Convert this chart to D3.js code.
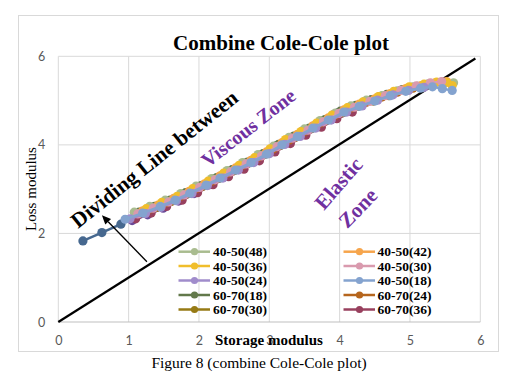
<!DOCTYPE html>
<html><head><meta charset="utf-8">
<script src="https://cdn.jsdelivr.net/npm/d3@7"></script>
<style>body{margin:0;background:#fff}svg{display:block}</style>
</head><body>
<script>
// ---------- data ----------
const xTicks = [0, 1, 2, 3, 4, 5, 6];
const yTicks = [0, 2, 4, 6];
const seriesNames = ["40-50(48)", "40-50(42)", "40-50(36)", "40-50(30)", "40-50(24)", "40-50(18)",
                     "60-70(18)", "60-70(24)", "60-70(30)", "60-70(36)", "60-70(42)", "60-70(48)"];
const seriesColors = ["#A9BC8F", "#F6A54C", "#F0BE2C", "#D99AAE", "#A08CCB", "#84A3CF",
                      "#62784A", "#B5651D", "#967A14", "#98405E", "#6B4A98", "#46688F"];
const legendCount = 10;

const s4048 = [[1.08,2.48],[1.3,2.61],[1.52,2.75],[1.74,2.90],[1.96,3.07],[2.18,3.24],[2.4,3.42],[2.62,3.60],[2.84,3.78],[3.06,3.97],[3.28,4.17],[3.5,4.36],[3.72,4.55],[3.94,4.72],[4.16,4.88],[4.38,5.01],[4.6,5.11],[4.82,5.22],[5.04,5.31],[5.26,5.38],[5.45,5.42],[5.62,5.40]];
const s4042 = [[1.2,2.51],[1.42,2.64],[1.64,2.79],[1.86,2.95],[2.08,3.12],[2.3,3.30],[2.52,3.48],[2.74,3.65],[2.96,3.84],[3.18,4.05],[3.4,4.24],[3.62,4.43],[3.84,4.61],[4.06,4.79],[4.28,4.92],[4.5,5.04],[4.72,5.16],[4.94,5.27],[5.16,5.34],[5.36,5.40],[5.52,5.43]];
const s4036 = [[1.25,2.56],[1.47,2.70],[1.69,2.84],[1.91,3.01],[2.13,3.18],[2.35,3.36],[2.57,3.54],[2.79,3.71],[3.01,3.91],[3.23,4.12],[3.45,4.30],[3.67,4.49],[3.89,4.67],[4.11,4.84],[4.33,4.97],[4.55,5.09],[4.77,5.21],[4.99,5.31],[5.2,5.37],[5.38,5.42],[5.52,5.41],[5.6,5.34]];
const s4030 = [[1.13,2.44],[1.35,2.57],[1.57,2.71],[1.79,2.87],[2.01,3.04],[2.23,3.21],[2.45,3.39],[2.67,3.57],[2.89,3.75],[3.11,3.96],[3.33,4.15],[3.55,4.33],[3.77,4.52],[3.99,4.71],[4.21,4.85],[4.43,4.98],[4.65,5.11],[4.87,5.23],[5.09,5.33],[5.29,5.40],[5.45,5.43]];
const s4024 = [[1.02,2.33],[1.24,2.45],[1.46,2.59],[1.68,2.74],[1.9,2.90],[2.12,3.08],[2.34,3.25],[2.56,3.43],[2.78,3.60],[3.0,3.80],[3.22,4.01],[3.44,4.19],[3.66,4.38],[3.88,4.56],[4.1,4.74],[4.32,4.88],[4.54,5.01],[4.76,5.13],[4.98,5.23],[5.2,5.30]];
const s4018 = [[0.95,2.32],[1.2,2.46],[1.45,2.61],[1.66,2.75],[1.87,2.91],[2.1,3.09],[2.3,3.25],[2.52,3.43],[2.74,3.60],[2.96,3.79],[3.18,4.00],[3.4,4.19],[3.62,4.38],[3.84,4.56],[4.06,4.74],[4.28,4.87],[4.5,4.99],[4.72,5.11],[4.94,5.21],[5.15,5.28],[5.32,5.31],[5.46,5.27],[5.6,5.23]];
const s6018 = [[1.15,2.48],[1.37,2.61],[1.59,2.75],[1.81,2.92],[2.03,3.08],[2.25,3.26],[2.47,3.44],[2.69,3.61],[2.91,3.80],[3.13,4.01],[3.35,4.20],[3.57,4.38],[3.79,4.57],[4.01,4.76],[4.23,4.89],[4.45,5.02],[4.67,5.14],[4.89,5.25],[5.11,5.32]];
const s6024 = [[1.3,2.55],[1.52,2.69],[1.74,2.84],[1.96,3.01],[2.18,3.18],[2.4,3.36],[2.62,3.54],[2.84,3.72],[3.06,3.91],[3.28,4.11],[3.5,4.30],[3.72,4.49],[3.94,4.67],[4.16,4.83],[4.38,4.96],[4.6,5.08],[4.82,5.19],[5.04,5.28]];
const s6030 = [[1.4,2.59],[1.62,2.73],[1.84,2.90],[2.06,3.07],[2.28,3.24],[2.5,3.42],[2.72,3.60],[2.94,3.79],[3.16,3.99],[3.38,4.18],[3.6,4.37],[3.82,4.56],[4.04,4.73],[4.26,4.87],[4.48,4.99],[4.7,5.11]];
const s6036 = [[1.1,2.33],[1.32,2.46],[1.54,2.61],[1.76,2.75],[1.98,2.92],[2.2,3.10],[2.42,3.28],[2.64,3.45],[2.86,3.64],[3.08,3.84],[3.3,4.03],[3.52,4.22],[3.74,4.40],[3.96,4.59],[4.18,4.74]];
const s6042 = [[1.05,2.29],[1.27,2.42],[1.49,2.57],[1.71,2.73],[1.93,2.90],[2.15,3.10],[2.37,3.30],[2.59,3.49],[2.81,3.69],[3.03,3.90],[3.25,4.11],[3.47,4.31],[3.69,4.49],[3.91,4.68],[4.13,4.84],[4.35,4.97],[4.57,5.09]];
const s6048 = [[0.35,1.83],[0.62,2.02],[0.89,2.21],[1.12,2.44],[1.34,2.59],[1.56,2.74],[1.78,2.89],[2.0,3.06],[2.22,3.24],[2.44,3.41],[2.66,3.59],[2.88,3.77],[3.1,3.98],[3.32,4.17],[3.54,4.35],[3.76,4.54],[3.98,4.73],[4.2,4.87]];
const seriesData = [s4048, s4042, s4036, s4030, s4024, s4018, s6018, s6024, s6030, s6036, s6042, s6048];
const drawOrder = [11, 10, 9, 8, 7, 6, 0, 1, 2, 3, 4, 5];

// dividing line y = x and arrow annotation (data coords)
const dividingLine = [[0, 0], [5.93, 5.95]];
const arrowPts = [[1.26, 1.36], [0.62, 2.41]];

// ---------- layout ----------
const W = 511, H = 379;
const plot = {left: 58.3, right: 480.3, top: 56.3, bottom: 322};
const serif = "'Liberation Serif','Times New Roman',serif";
const sans = "Lato,'Open Sans',sans-serif";
const purple = "#7030A0";

const svg = d3.select("body").append("svg").attr("width", W).attr("height", H);
svg.append("rect").attr("width", W).attr("height", H).attr("fill", "#fff");
svg.append("rect").attr("x", 18.5).attr("y", 15.5).attr("width", 480).attr("height", 336)
   .attr("fill", "none").attr("stroke", "#D9D9D9").attr("stroke-width", 1);

const x = d3.scaleLinear().domain([0, 6]).range([plot.left, plot.right]);
const y = d3.scaleLinear().domain([0, 6]).range([plot.bottom, plot.top]);

// gridlines
const grid = svg.append("g");
grid.selectAll("line.v").data(xTicks).join("line")
  .attr("x1", d => x(d)).attr("x2", d => x(d)).attr("y1", plot.top).attr("y2", plot.bottom)
  .attr("stroke", "#D9D9D9").attr("stroke-width", 1);
grid.selectAll("line.h").data(yTicks).join("line")
  .attr("x1", plot.left).attr("x2", plot.right).attr("y1", d => y(d)).attr("y2", d => y(d))
  .attr("stroke", d => d === 0 ? "#BFBFBF" : "#D9D9D9").attr("stroke-width", 1);

// axes
const xAxis = svg.append("g").attr("transform", `translate(0,${plot.bottom})`)
  .call(d3.axisBottom(x).tickValues(xTicks).tickSize(0).tickPadding(14.5).tickFormat(d3.format("d")));
const yAxis = svg.append("g").attr("transform", `translate(${plot.left},0)`)
  .call(d3.axisLeft(y).tickValues(yTicks).tickSize(0).tickPadding(13).tickFormat(d3.format("d")));
[xAxis, yAxis].forEach(a => {
  a.select(".domain").remove();
  a.selectAll("text").attr("fill", "#595959").style("font-family", sans).style("font-size", "12.5px");
});

// title
svg.append("text").attr("x", 281).attr("y", 49.5).attr("text-anchor", "middle")
  .style("font-family", serif).style("font-weight", "bold").style("font-size", "21px")
  .text("Combine Cole-Cole plot");

// axis titles
svg.append("text").attr("transform", "translate(36,189) rotate(-90)").attr("text-anchor", "middle")
  .style("font-family", serif).style("font-size", "15px").text("Loss modulus");
svg.append("text").attr("x", 269).attr("y", 344.5).attr("text-anchor", "middle")
  .style("font-family", serif).style("font-weight", "bold").style("font-size", "15px").text("Storage modulus");

// caption
svg.append("text").attr("x", 259).attr("y", 368).attr("text-anchor", "middle")
  .style("font-family", serif).style("font-size", "15.5px").text("Figure 8 (combine Cole-Cole plot)");

// dividing line
const line = d3.line().x(d => x(d[0])).y(d => y(d[1]));
svg.append("path").attr("d", line(dividingLine)).attr("stroke", "#000").attr("stroke-width", 2.2).attr("fill", "none");

// series
const gS = svg.append("g");
drawOrder.forEach(i => {
  const g = gS.append("g");
  g.append("path").attr("d", line(seriesData[i])).attr("fill", "none")
    .attr("stroke", seriesColors[i]).attr("stroke-width", 2.5);
  g.selectAll("circle").data(seriesData[i]).join("circle")
    .attr("cx", d => x(d[0])).attr("cy", d => y(d[1])).attr("r", 4.6).attr("fill", seriesColors[i]);
});

// arrow
const a0 = [x(arrowPts[0][0]), y(arrowPts[0][1])], a1 = [x(arrowPts[1][0]), y(arrowPts[1][1])];
const ang = Math.atan2(a1[1] - a0[1], a1[0] - a0[0]);
const hl = 9, hw = 4;
const base = [a1[0] - hl * Math.cos(ang), a1[1] - hl * Math.sin(ang)];
svg.append("line").attr("x1", a0[0]).attr("y1", a0[1]).attr("x2", base[0]).attr("y2", base[1])
  .attr("stroke", "#000").attr("stroke-width", 1.3);
svg.append("path").attr("d", `M${a1[0]},${a1[1]}L${base[0] + hw * Math.sin(ang)},${base[1] - hw * Math.cos(ang)}L${base[0] - hw * Math.sin(ang)},${base[1] + hw * Math.cos(ang)}Z`)
  .attr("fill", "#000");

// annotation texts
svg.append("text").attr("transform", "translate(78,229) rotate(-38.5)")
  .style("font-family", serif).style("font-weight", "bold").style("font-size", "21.5px").text("Dividing Line between");
svg.append("text").attr("transform", "translate(208,168) rotate(-38)")
  .style("font-family", serif).style("font-weight", "bold").style("font-size", "20px").attr("fill", purple).text("Viscous Zone");
svg.append("text").attr("transform", "translate(344,188) rotate(-49)").attr("text-anchor", "middle")
  .style("font-family", serif).style("font-weight", "bold").style("font-size", "21px").attr("fill", purple).text("Elastic");
svg.append("text").attr("transform", "translate(363,213) rotate(-46)").attr("text-anchor", "middle")
  .style("font-family", serif).style("font-weight", "bold").style("font-size", "21px").attr("fill", purple).text("Zone");

// legend
const leg = svg.append("g");
const legCols = [{lx: 178.5, tx: 213}, {lx: 343.5, tx: 377.5}];
const legRows = [251.7, 266, 280.5, 295, 309.5];
d3.range(legendCount).forEach(i => {
  const c = legCols[i % 2], r = legRows[Math.floor(i / 2)];
  leg.append("line").attr("x1", c.lx).attr("x2", c.lx + 31.5).attr("y1", r).attr("y2", r)
    .attr("stroke", seriesColors[i]).attr("stroke-width", 2.5);
  leg.append("circle").attr("cx", c.lx + 16).attr("cy", r).attr("r", 3.6).attr("fill", seriesColors[i]);
  leg.append("text").attr("x", c.tx).attr("y", r + 4.6)
    .style("font-family", serif).style("font-weight", "bold").style("font-size", "13.5px").text(seriesNames[i]);
});
</script>
</body></html>
